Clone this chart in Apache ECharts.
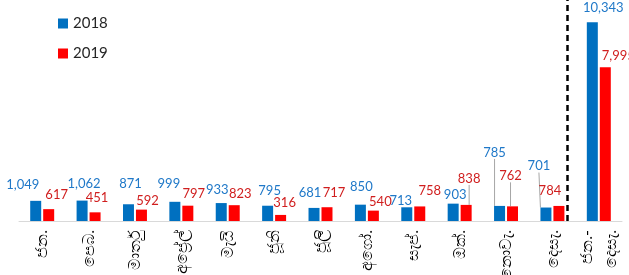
<!DOCTYPE html>
<html>
<head>
<meta charset="utf-8">
<script src="https://cdn.jsdelivr.net/npm/echarts@6/dist/echarts.min.js"></script>
<style>
  html, body { margin: 0; padding: 0; background: #fff; }
  #chart { width: 629px; height: 275px; }
</style>
</head>
<body>
<div id="chart"></div>
<script>
// months (Sinhala) + full year total
const months = ["ජන.", "පෙබ.", "මාර්තු", "අප්‍රේල්", "මැයි", "ජූනි", "ජූලි", "අගෝ.", "සැප්.", "ඔක්.", "නොවැ.", "දෙසැ.", "ජන.-\nදෙසැ."];
const seriesNames = ["2018", "2019"];
const values2018 = [1049, 1062, 871, 999, 933, 795, 681, 850, 713, 903, 785, 701, 10343];
const values2019 = [617, 451, 592, 797, 823, 316, 717, 540, 758, 838, 762, 784, 7995];

// where the dashed separator sits (category index units)
const separatorAt = 11.32;

// label nudges, copied by eye from the excel layout
const nudge2018 = [[-13, -5], [2, -5], [2, -9], [-6, -6], [-4, -2], [2, -3], [-4, -4], [1, -6], [-6, 5], [2, 3], [-5, -42], [-7, -30], [11, -3]];
const nudge2019 = [[8, -3], [2, -3], [6, 3], [6, 0], [6, 0], [4, -1], [7, -3], [7, 3], [10, -4], [3, -15], [-2, -19], [-9, -4], [13, 0]];
// which labels get a leader line
const leader2018 = [10, 11];
const leader2019 = [9, 10];

const fmt = (p) => p.value.toLocaleString("en-US");

function makeData(vals, leaders) {
  return vals.map((v, i) => ({
    value: v,
    labelLine: { show: leaders.indexOf(i) >= 0 },
  }));
}

const chart = echarts.init(document.getElementById("chart"));

const option = {
  animation: false,
  color: ["#0070C0", "#FF0000"],
  textStyle: { fontFamily: "Lato, 'Open Sans', sans-serif" },
  legend: {
    data: seriesNames,
    orient: "vertical",
    left: 53,
    top: 11,
    itemWidth: 10,
    itemHeight: 10,
    itemGap: 15,
    icon: "rect",
    textStyle: { fontSize: 15, color: "#262626" },
  },
  grid: { left: 19, right: 7, top: 0, bottom: 54, containLabel: false, outerBoundsMode: "none" },
  xAxis: [
    {
      type: "category",
      data: months,
      axisLine: { lineStyle: { color: "#d9d9d9", width: 1 } },
      axisTick: { show: false },
      axisLabel: {
        rotate: 90,
        margin: 9,
        fontSize: 16,
        color: "#000",
        interval: 0,
        lineHeight: 24,
      },
    },
    {
      // hidden helper axis, only for the separator line
      type: "value",
      min: -0.5,
      max: 12.5,
      show: false,
    },
  ],
  yAxis: { type: "value", min: 0, max: 11500, show: false },
  series: [
    {
      name: "2018",
      type: "bar",
      barWidth: 11,
      barGap: "18%",
      data: makeData(values2018, leader2018),
      label: { show: true, position: "top", fontSize: 13, color: "#1F78C8", formatter: fmt },
      labelLine: { lineStyle: { color: "#a6a6a6", width: 1 } },
      labelLayout: (p) => ({ dx: nudge2018[p.dataIndex][0], dy: nudge2018[p.dataIndex][1] }),
    },
    {
      name: "2019",
      type: "bar",
      barWidth: 11,
      barGap: "18%",
      data: makeData(values2019, leader2019),
      label: { show: true, position: "top", fontSize: 13, color: "#D01E1E", formatter: fmt },
      labelLine: { lineStyle: { color: "#a6a6a6", width: 1 } },
      labelLayout: (p) => ({ dx: nudge2019[p.dataIndex][0], dy: nudge2019[p.dataIndex][1] }),
    },
    {
      type: "line",
      xAxisIndex: 1,
      data: [],
      silent: true,
      markLine: {
        silent: true,
        symbol: "none",
        label: { show: false },
        lineStyle: { color: "#000", type: [6, 4], width: 2.5 },
        data: [{ xAxis: separatorAt }],
      },
    },
  ],
};

chart.setOption(option);
</script>
</body>
</html>
